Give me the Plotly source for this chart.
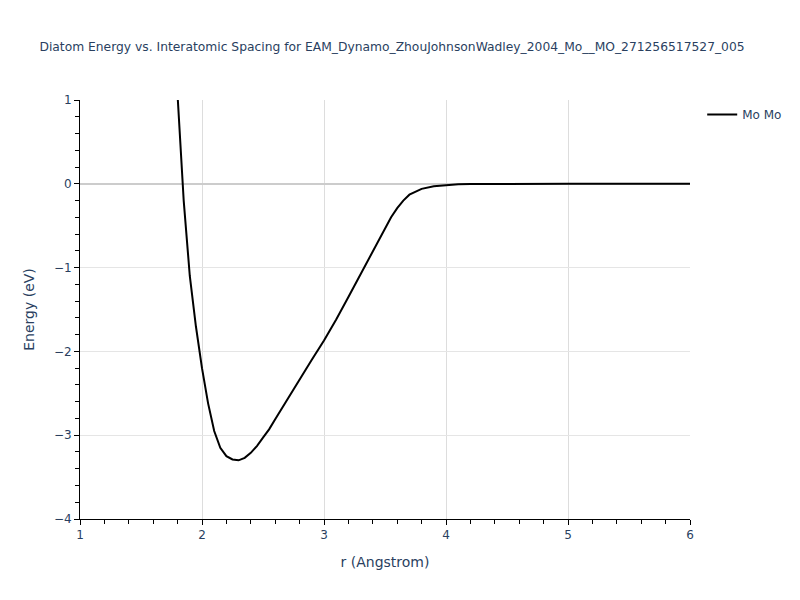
import plotly.graph_objects as go

r_vals = [1.75, 1.80, 1.85, 1.90, 1.95, 2.00, 2.05, 2.10, 2.15, 2.20, 2.25, 2.30,
          2.35, 2.40, 2.45, 2.50, 2.55, 2.60, 2.70, 2.80, 2.90, 3.00, 3.10, 3.20,
          3.30, 3.40, 3.50, 3.55, 3.60, 3.65, 3.70, 3.75, 3.80, 3.90, 4.00, 4.10,
          4.20, 4.40, 4.60, 5.00, 5.50, 6.00]
energy = [2.3, 1.0, -0.2, -1.1, -1.7, -2.2, -2.62, -2.95, -3.15, -3.25, -3.29, -3.30,
          -3.27, -3.21, -3.13, -3.03, -2.93, -2.81, -2.57, -2.33, -2.10, -1.87, -1.62, -1.35,
          -1.08, -0.80, -0.53, -0.40, -0.29, -0.20, -0.13, -0.09, -0.06, -0.03, -0.015, -0.005,
          -0.002, 0.0, 0.0, 0.0, 0.0, 0.0]

fig = go.Figure()
fig.add_trace(go.Scatter(x=r_vals, y=energy, mode="lines", name="Mo Mo",
                         line=dict(color="black", width=2)))

fig.update_layout(
    template="plotly_white",
    width=800, height=600,
    font=dict(family="Verdana, DejaVu Sans, sans-serif"),
    title=dict(text="Diatom Energy vs. Interatomic Spacing for EAM_Dynamo_ZhouJohnsonWadley_2004_Mo__MO_271256517527_005",
               x=0.48, xanchor="center", y=0.943, font=dict(size=12.3)),
    margin=dict(l=72, r=118, t=92, b=89),
    showlegend=True,
    legend=dict(x=1.02, y=1.0),
    xaxis=dict(title=dict(text="r (Angstrom)"), range=[1, 6], showline=True, linecolor="black",
               ticks="outside", tickcolor="black", gridcolor="#dddddd",
               minor=dict(ticks="outside", dtick=0.2, tickcolor="black", ticklen=4),
               zeroline=False),
    yaxis=dict(title=dict(text="Energy (eV)"), range=[-4, 1], showline=True, linecolor="black",
               ticks="outside", tickcolor="black", gridcolor="#e5e5e5",
               minor=dict(ticks="outside", dtick=0.2, tickcolor="black", ticklen=4),
               zeroline=True, zerolinecolor="#cccccc", zerolinewidth=2),
)

fig.write_html("out.html")
